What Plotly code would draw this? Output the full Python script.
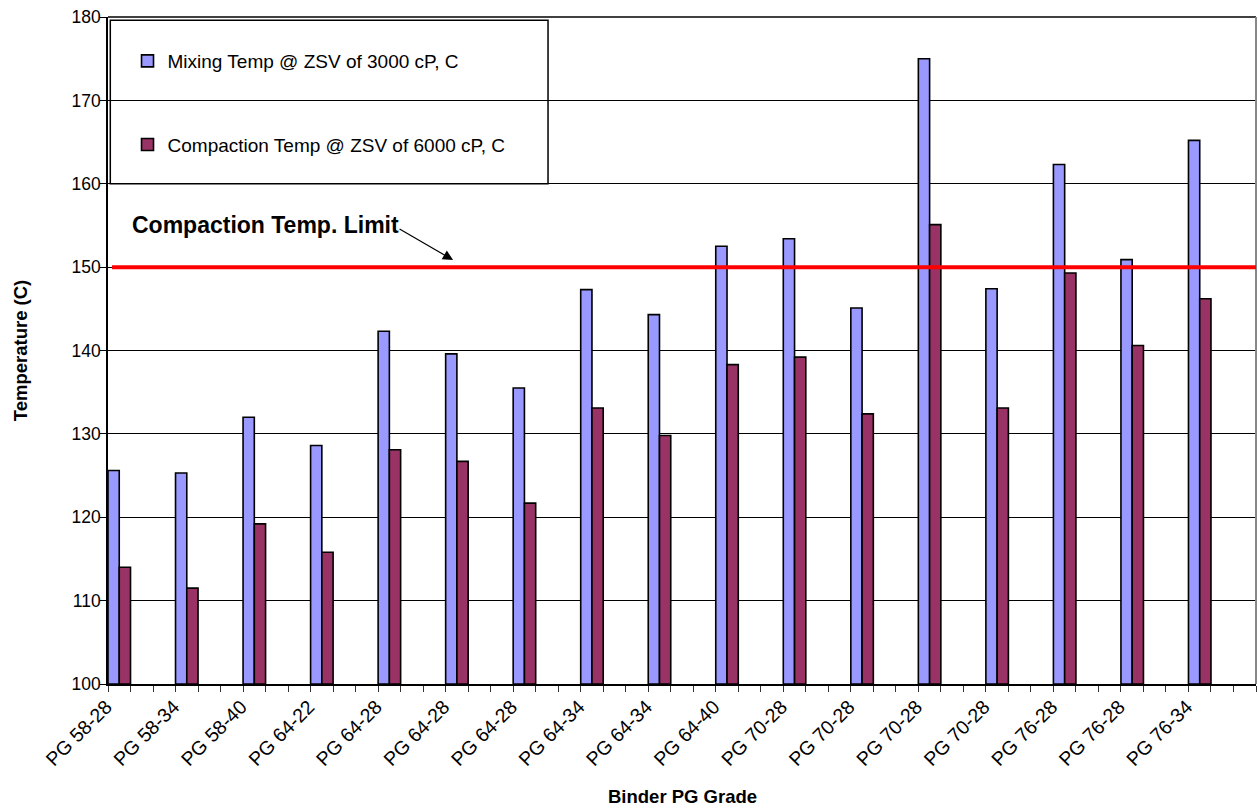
import plotly.graph_objects as go

grades = ["PG 58-28", "PG 58-34", "PG 58-40", "PG 64-22", "PG 64-28", "PG 64-28",
          "PG 64-28", "PG 64-34", "PG 64-34", "PG 64-40", "PG 70-28", "PG 70-28",
          "PG 70-28", "PG 70-28", "PG 76-28", "PG 76-28", "PG 76-34"]
mixing = [125.6, 125.3, 132.0, 128.6, 142.3, 139.6, 135.5, 147.3, 144.3, 152.5,
          153.4, 145.1, 175.0, 147.4, 162.3, 150.9, 165.2]
compaction = [114.0, 111.5, 119.2, 115.8, 128.1, 126.7, 121.7, 133.1, 129.8, 138.3,
              139.2, 132.4, 155.1, 133.1, 149.3, 140.6, 146.2]
limit = 150
slots_per_group = 3
n_slots = len(grades) * slots_per_group

FONT = "Arial, Liberation Sans, sans-serif"
x_blue = [slots_per_group * i + 0.25 for i in range(len(grades))]
x_red = [slots_per_group * i + 0.75 for i in range(len(grades))]
x_lab = [slots_per_group * i + 0.5 for i in range(len(grades))]

fig = go.Figure()
fig.add_trace(go.Bar(x=x_blue, y=[v - 100 for v in mixing], base=100, width=0.5,
                     name="Mixing Temp @ ZSV of 3000 cP, C", legendgroup="a",
                     marker=dict(color="#9999FF", line=dict(color="black", width=1.6))))
fig.add_trace(go.Bar(x=x_red, y=[v - 100 for v in compaction], base=100, width=0.5,
                     name="Compaction Temp @ ZSV of 6000 cP, C", legendgroup="b",
                     marker=dict(color="#993366", line=dict(color="black", width=1.6))))

fig.update_layout(
    width=1258, height=808,
    margin=dict(l=108, r=2, t=17, b=124),
    paper_bgcolor="white", plot_bgcolor="white",
    barmode="overlay",
    font=dict(family=FONT, color="black", size=17),
    showlegend=True,
    legend=dict(x=0.017, y=0.9625, xanchor="left", yanchor="top",
                bgcolor="rgba(0,0,0,0)", borderwidth=0,
                font=dict(size=19, family=FONT),
                traceorder="grouped", tracegroupgap=56),
    xaxis=dict(range=[0, n_slots], tickvals=x_lab, ticktext=grades, tickangle=-45,
               ticks="", showgrid=False, zeroline=False, showline=True,
               linecolor="black", linewidth=1.5, tickfont=dict(size=19.5),
               ticklabelshift=-13, ticklabelstandoff=2,
               minor=dict(ticks="outside", ticklen=6, dtick=1, tick0=0,
                          tickcolor="#333333", showgrid=False)),
    yaxis=dict(range=[100, 180], dtick=10, ticks="outside", ticklen=6,
               tickcolor="black", showgrid=True, gridcolor="black", gridwidth=1,
               zeroline=False, showline=True, linecolor="black", linewidth=1.5,
               tickfont=dict(size=17.5), ticklabelstandoff=-4),
    shapes=[
        dict(type="line", xref="paper", yref="paper", x0=0, x1=1, y0=1, y1=1,
             line=dict(color="black", width=1.5)),
        dict(type="line", xref="paper", yref="paper", x0=1, x1=1, y0=0, y1=1,
             line=dict(color="#888888", width=2)),
        dict(type="rect", xref="paper", yref="y", x0=0.002, x1=0.3833, y0=160, y1=179.6,
             line=dict(color="black", width=1.5), fillcolor="white", layer="below"),
        dict(type="line", xref="paper", yref="y", x0=0.0035, x1=1, y0=limit, y1=limit,
             line=dict(color="#FF0000", width=4)),
    ],
    annotations=[
        dict(text="Compaction Temp. Limit", xref="paper", yref="y", x=0.0195, y=155.1,
             xanchor="left", yanchor="middle", showarrow=False,
             font=dict(size=23, family=FONT, weight="bold")),
        dict(text="", xref="x", yref="y", x=15.33, y=150.85, ax=-55, ay=-32,
             showarrow=True, arrowhead=2, arrowsize=1.7, arrowwidth=1.2, arrowcolor="black"),
        dict(text="Binder PG Grade", xref="paper", yref="paper", x=0.5, y=-0.1694,
             xanchor="center", yanchor="middle", showarrow=False,
             font=dict(size=18.5, family=FONT, weight="bold")),
        dict(text="Temperature (C)", xref="paper", yref="paper", x=-0.076, y=0.5,
             xanchor="center", yanchor="middle", showarrow=False, textangle=-90,
             font=dict(size=18.5, family=FONT, weight="bold")),
    ],
)

fig.write_html("out.html")
